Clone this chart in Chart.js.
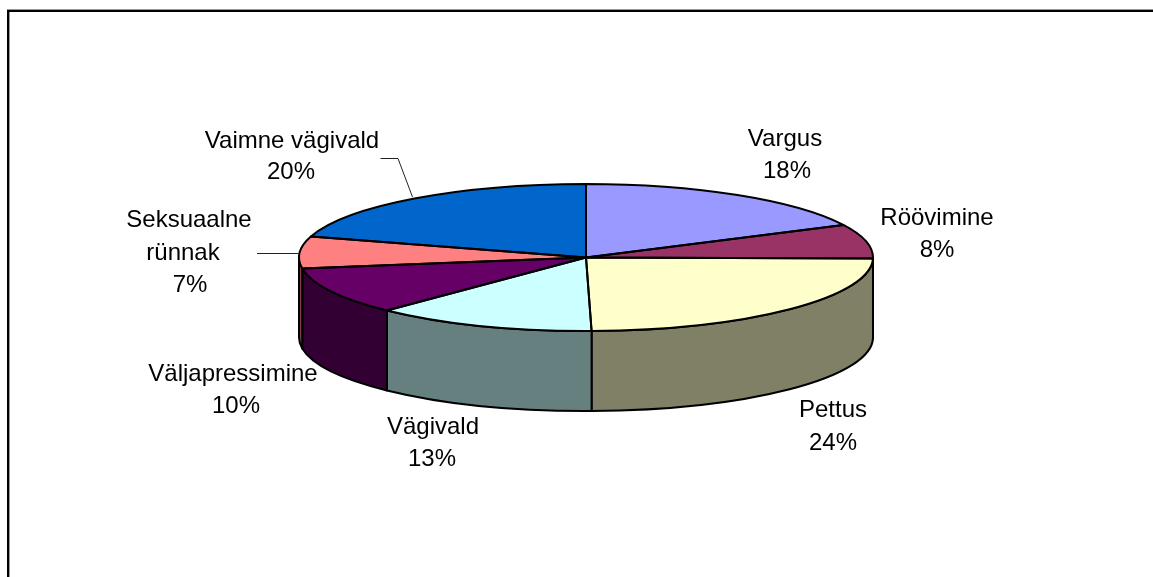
<!DOCTYPE html>
<html>
<head>
<meta charset="utf-8">
<style>html,body{margin:0;padding:0;background:#fff;overflow:hidden}canvas{display:block}</style>
<script src="https://cdn.jsdelivr.net/npm/chart.js@4"></script>
</head>
<body>
<canvas id="c" width="1153" height="577"></canvas>
<script>
const categories = ['Vargus', 'Röövimine', 'Pettus', 'Vägivald', 'Väljapressimine', 'Seksuaalne\nrünnak', 'Vaimne vägivald'];
const values = [17.7, 7.5, 24.49, 12.51, 10.4, 7.0, 20.4];
const topColors = ['#9999FF', '#993366', '#FFFFCC', '#CCFFFF', '#660066', '#FF8080', '#0066CC'];
const sideColors = ['#4D4D80', '#4D1A33', '#808066', '#668080', '#330033', '#804040', '#003366'];

// page layout
const PIE = {cx: 586, cy: 257.5, rx: 287, ry: 73.5, depth: 80};
const LABEL_LAYOUT = [
  [[785, 139], [787, 171]],
  [[937, 218], [937, 250]],
  [[833, 410], [833, 443]],
  [[433, 427], [432, 459]],
  [[233, 374], [236, 406]],
  [[189, 220], [183, 253], [190, 285]],
  [[292, 141], [291, 172]]
];
const LEADERS = [
  [[380.5, 158.5], [398, 158.5], [412.5, 197]],
  [[257, 253.5], [299, 253.5]]
];
const total = values.reduce((a, b) => a + b, 0);

const pie3d = {
  id: 'pie3d',
  beforeDatasetsDraw(chart) {
    const ctx = chart.ctx;
    const arcs = chart.getDatasetMeta(0).data;
    // frame: top and left rules only
    ctx.fillStyle = '#999999';
    ctx.fillRect(7, 9, 1146, 1);
    ctx.fillRect(9, 12, 1, 565);
    ctx.fillStyle = '#000000';
    ctx.fillRect(7, 10, 1146, 2);
    ctx.fillRect(7, 10, 2, 567);
    // extruded rim, front half only (canvas angles 0..PI)
    arcs.forEach((el, i) => {
      let a0 = el.startAngle, a1 = el.endAngle;
      a0 = Math.max(a0, 0); a1 = Math.min(a1, Math.PI);
      if (a1 <= a0) return;
      ctx.beginPath();
      ctx.ellipse(PIE.cx, PIE.cy, PIE.rx, PIE.ry, 0, a0, a1);
      ctx.ellipse(PIE.cx, PIE.cy + PIE.depth, PIE.rx, PIE.ry, 0, a1, a0, true);
      ctx.closePath();
      ctx.fillStyle = sideColors[i];
      ctx.fill();
      ctx.lineWidth = 2;
      ctx.strokeStyle = '#000';
      ctx.lineJoin = 'round';
      ctx.stroke();
    });
    // squash the library's own round pie into the tilted top face
    const first = arcs[0];
    const R = first.outerRadius;
    ctx.save();
    ctx.translate(PIE.cx, PIE.cy);
    ctx.scale(PIE.rx / R, PIE.ry / R);
    ctx.translate(-first.x, -first.y);
  },
  afterDatasetsDraw(chart) {
    const ctx = chart.ctx;
    ctx.restore();
    const arcs = chart.getDatasetMeta(0).data;
    ctx.strokeStyle = '#000';
    ctx.lineWidth = 2;
    ctx.lineJoin = 'round';
    arcs.forEach(el => {
      ctx.beginPath();
      ctx.moveTo(PIE.cx, PIE.cy);
      ctx.ellipse(PIE.cx, PIE.cy, PIE.rx, PIE.ry, 0, el.startAngle, el.endAngle);
      ctx.closePath();
      ctx.stroke();
    });
    // leader lines
    ctx.strokeStyle = '#222';
    ctx.lineWidth = 1;
    LEADERS.forEach(pts => {
      ctx.beginPath();
      pts.forEach((p, k) => k ? ctx.lineTo(p[0], p[1]) : ctx.moveTo(p[0], p[1]));
      ctx.stroke();
    });
    // data labels
    ctx.fillStyle = '#000';
    ctx.font = '24px "Liberation Sans", Arial, sans-serif';
    ctx.textAlign = 'center';
    ctx.textBaseline = 'middle';
    categories.forEach((name, i) => {
      const lines = name.split('\n').concat(Math.round(values[i] / total * 100) + '%');
      lines.forEach((t, k) => {
        const p = LABEL_LAYOUT[i][k];
        ctx.fillText(t, p[0], p[1]);
      });
    });
  }
};

new Chart(document.getElementById('c'), {
  type: 'pie',
  data: {
    labels: categories,
    datasets: [{data: values, backgroundColor: topColors, borderWidth: 0, clip: false}]
  },
  options: {
    responsive: false,
    animation: false,
    layout: {padding: 0},
    plugins: {legend: {display: false}, tooltip: {enabled: false}, title: {display: false}}
  },
  plugins: [pie3d]
});
</script>
</body>
</html>
